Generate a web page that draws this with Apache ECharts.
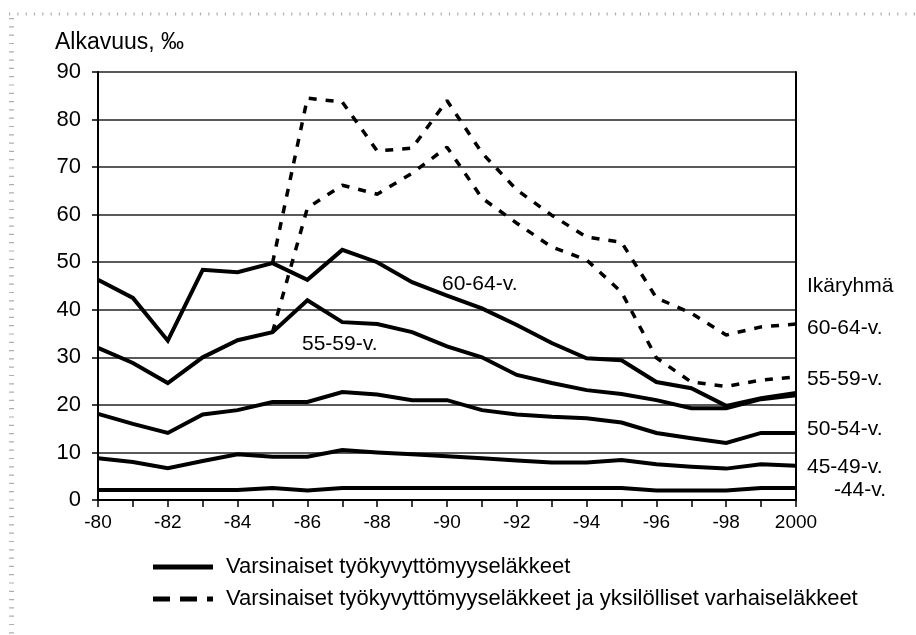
<!DOCTYPE html>
<html>
<head>
<meta charset="utf-8">
<script src="https://cdn.jsdelivr.net/npm/echarts@6/dist/echarts.min.js"></script>
<style>html,body{margin:0;padding:0;background:#fff}#c{width:916px;height:635px}</style>
</head>
<body>
<div id="c"></div>
<script>
const years = ['1980','1981','1982','1983','1984','1985','1986','1987','1988','1989','1990','1991','1992','1993','1994','1995','1996','1997','1998','1999','2000'];
const tickLabels = ['-80','','-82','','-84','','-86','','-88','','-90','','-92','','-94','','-96','','-98','','2000'];
const yTicks = [0,10,20,30,40,50,60,70,80,90];

const solid44   = [2.1,2.1,2.1,2.1,2.1,2.5,2.0,2.5,2.5,2.5,2.5,2.5,2.5,2.5,2.5,2.5,2.0,2.0,2.0,2.5,2.5];
const solid4549 = [8.8,8.0,6.7,8.2,9.6,9.1,9.1,10.5,10.0,9.6,9.2,8.8,8.3,7.9,7.9,8.4,7.5,7.0,6.6,7.5,7.2];
const solid5054 = [18.1,16.0,14.1,18.0,18.9,20.6,20.6,22.7,22.2,21.0,21.0,18.9,18.0,17.5,17.2,16.3,14.1,13.0,12.0,14.1,14.1];
const solid5559 = [32.0,28.8,24.6,30.0,33.6,35.3,42.0,37.4,37.0,35.3,32.3,30.0,26.3,24.6,23.1,22.3,21.0,19.3,19.3,21.2,22.0];
const solid6064 = [46.3,42.5,33.5,48.4,47.9,49.8,46.3,52.6,50.0,45.8,43.0,40.3,36.8,33.0,29.8,29.4,24.8,23.5,19.8,21.4,22.5];
const dashed5559 = [null,null,null,null,null,35.3,61.4,66.2,64.3,68.7,74.2,63.5,58.2,53.2,50.5,43.7,29.9,24.8,23.9,25.2,25.9];
const dashed6064 = [null,null,null,null,null,49.8,84.5,83.7,73.4,74.0,84.0,73.0,65.2,59.9,55.3,54.2,42.5,39.3,34.7,36.4,37.0];

const solidName = 'Varsinaiset työkyvyttömyyseläkkeet';
const dashedName = 'Varsinaiset työkyvyttömyyseläkkeet ja yksilölliset varhaiseläkkeet';
const titleText = 'Alkavuus, ‰';
const rightTitle = 'Ikäryhmä';

const FONT = 'Liberation Sans, Arial, sans-serif';
const chart = echarts.init(document.getElementById('c'), null, {renderer: 'canvas'});

function solid(data) {
  return {name: solidName, type: 'line', data: data, symbol: 'none', silent: true,
    lineStyle: {color: '#000', width: 4, join: 'miter'}, itemStyle: {color: '#000'}, z: 3};
}
function dashed(data) {
  return {name: dashedName, type: 'line', data: data, symbol: 'none', silent: true, connectNulls: false,
    lineStyle: {color: '#000', width: 3.5, type: [8, 9]}, itemStyle: {color: '#000'}, z: 4};
}

function txt(x, y, s, align, size) {
  return {type: 'text', x: x, y: y, silent: true,
    style: {text: s, font: (size || 21) + 'px ' + FONT, fill: '#000', textAlign: align || 'left', textVerticalAlign: 'middle'}};
}

const option = {
  animation: false,
  backgroundColor: '#fff',
  grid: {left: 98, right: 120, top: 72, bottom: 135, containLabel: false},
  xAxis: {
    type: 'category', data: years, boundaryGap: false,
    axisLine: {show: true, lineStyle: {color: '#000', width: 2}},
    axisTick: {show: true, interval: 0, length: 7, lineStyle: {color: '#000', width: 1.5}},
    axisLabel: {interval: 0, margin: 13, color: '#000', fontSize: 19, fontFamily: FONT,
      formatter: (v, i) => tickLabels[i]},
    splitLine: {show: false}
  },
  yAxis: [{
    type: 'value', min: 0, max: 90, interval: 10, position: 'left',
    axisLine: {show: true, lineStyle: {color: '#000', width: 2}},
    axisTick: {show: true, length: 6, lineStyle: {color: '#000', width: 1.5}},
    axisLabel: {margin: 17, color: '#000', fontSize: 22, fontFamily: FONT,
      formatter: v => yTicks.includes(v) ? String(v) : ''},
    splitLine: {show: true, lineStyle: {color: '#222', width: 1.5}}
  }, {
    type: 'value', min: 0, max: 90, interval: 10, position: 'right',
    axisLine: {show: true, lineStyle: {color: '#000', width: 2}},
    axisTick: {show: false}, axisLabel: {show: false}, splitLine: {show: false}
  }],
  legend: {
    orient: 'vertical', left: 153, top: 556, padding: 0, itemGap: 10, itemWidth: 60, itemHeight: 5,
    selectedMode: false,
    textStyle: {color: '#000', fontSize: 22, fontFamily: FONT, padding: [0, 0, 0, 8]},
    data: [
      {name: solidName, icon: 'path://M0,0h60v5h-60z', itemStyle: {color: '#000'}},
      {name: dashedName, icon: 'path://M0,0h17v5h-17z M27,0h17v5h-17z M54,0h6v5h-6z', itemStyle: {color: '#000'}}
    ]
  },
  graphic: [
    {type: 'line', silent: true, shape: {x1: 9, y1: 14, x2: 916, y2: 14},
      style: {stroke: '#b0b0b0', lineWidth: 3, lineDash: [1.2, 7.1]}},
    {type: 'line', silent: true, shape: {x1: 11.5, y1: 18, x2: 11.5, y2: 635},
      style: {stroke: '#b0b0b0', lineWidth: 5, lineDash: [1.2, 7.1]}},
    txt(55, 43, titleText, 'left', 23),
    txt(442, 284, '60-64-v.'),
    txt(302, 344, '55-59-v.'),
    txt(807, 286, rightTitle),
    txt(807, 328, '60-64-v.'),
    txt(807, 379, '55-59-v.'),
    txt(807, 429, '50-54-v.'),
    txt(807, 467, '45-49-v.'),
    txt(886, 490, '-44-v.', 'right')
  ],
  series: [
    solid(solid44), solid(solid4549), solid(solid5054), solid(solid5559), solid(solid6064),
    dashed(dashed5559), dashed(dashed6064)
  ]
};
chart.setOption(option);
</script>
</body>
</html>
